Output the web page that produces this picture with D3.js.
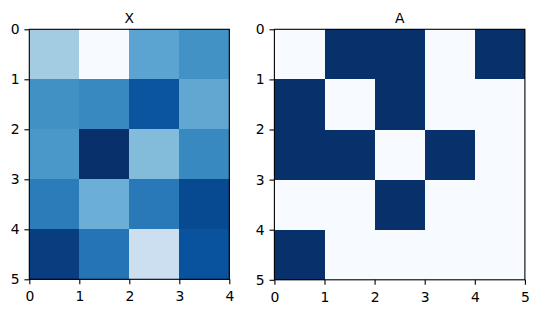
<!DOCTYPE html>
<html><head><meta charset="utf-8">
<script src="https://cdn.jsdelivr.net/npm/d3@7"></script>
<style>body{margin:0;background:#fff}svg{display:block}text{font-family:"DejaVu Sans",sans-serif;fill:#000}</style>
</head><body>
<svg id="c" width="538" height="313"></svg>
<script>
const xValues = [
  [0.36, 0.00, 0.55, 0.625],
  [0.63, 0.66, 0.86, 0.53],
  [0.60, 1.00, 0.44, 0.66],
  [0.71, 0.50, 0.72, 0.90],
  [0.95, 0.74, 0.22, 0.87]
];
const aValues = [
  [0,1,1,0,1],
  [1,0,1,0,0],
  [1,1,0,1,0],
  [0,0,1,0,0],
  [1,0,0,0,0]
];
const titles = ["X", "A"];
const xTicksLeft = [0,1,2,3,4];
const xTicksRight = [0,1,2,3,4,5];
const yTicks = [0,1,2,3,4,5];

const bluesStops = ["#f7fbff","#deebf7","#c6dbef","#9ecae1","#6baed6","#4292c6","#2171b5","#08519c","#08306b"];
const blues = d3.scaleLinear().domain(d3.range(9).map(i=>i/8)).range(bluesStops).interpolate(d3.interpolateRgb).clamp(true);

const svg = d3.select("#c");

function panel(data, title, left, top, cell, xt) {
  const nr = data.length, nc = data[0].length;
  const w = nc*cell, h = nr*cell;
  const x = d3.scaleLinear().domain([0,nc]).range([left,left+w]);
  const y = d3.scaleLinear().domain([0,nr]).range([top,top+h]);
  const flat = data.flat();
  const norm = d3.scaleLinear().domain(d3.extent(flat)).range([0,1]);
  const g = svg.append("g");
  data.forEach((row,i)=>row.forEach((v,j)=>{
    g.append("rect").attr("x",x(j)).attr("y",y(i))
      .attr("width",x(j+1)-x(j)+0.3).attr("height",y(i+1)-y(i)+0.3)
      .attr("fill",blues(norm(v))).attr("shape-rendering","crispEdges");
  }));
  const ax = g.append("g").attr("transform",`translate(0,${top+h})`)
    .call(d3.axisBottom(x).tickValues(xt).tickFormat(d3.format("d")).tickSize(4.9).tickPadding(7));
  const ay = g.append("g").attr("transform",`translate(${left},0)`)
    .call(d3.axisLeft(y).tickValues(yTicks).tickFormat(d3.format("d")).tickSize(4.9).tickPadding(4.9));
  [ax,ay].forEach(a=>{
    a.select(".domain").remove();
    a.selectAll("line").attr("stroke","#000").attr("stroke-width",1.1);
    a.selectAll("text").attr("font-size",13.9).attr("font-family","DejaVu Sans").attr("fill","#000");
  });
  g.append("rect").attr("x",left).attr("y",top).attr("width",w).attr("height",h)
    .attr("fill","none").attr("stroke","#000").attr("stroke-width",1.1);
  g.append("text").attr("x",left+w/2).attr("y",top-6.5).attr("text-anchor","middle")
    .attr("font-size",13.9).text(title);
}
panel(xValues, titles[0], 29.3, 29.3, 50, xTicksLeft);
panel(aValues, titles[1], 274.4, 29.3, 50.1, xTicksRight);
</script>
</body></html>
